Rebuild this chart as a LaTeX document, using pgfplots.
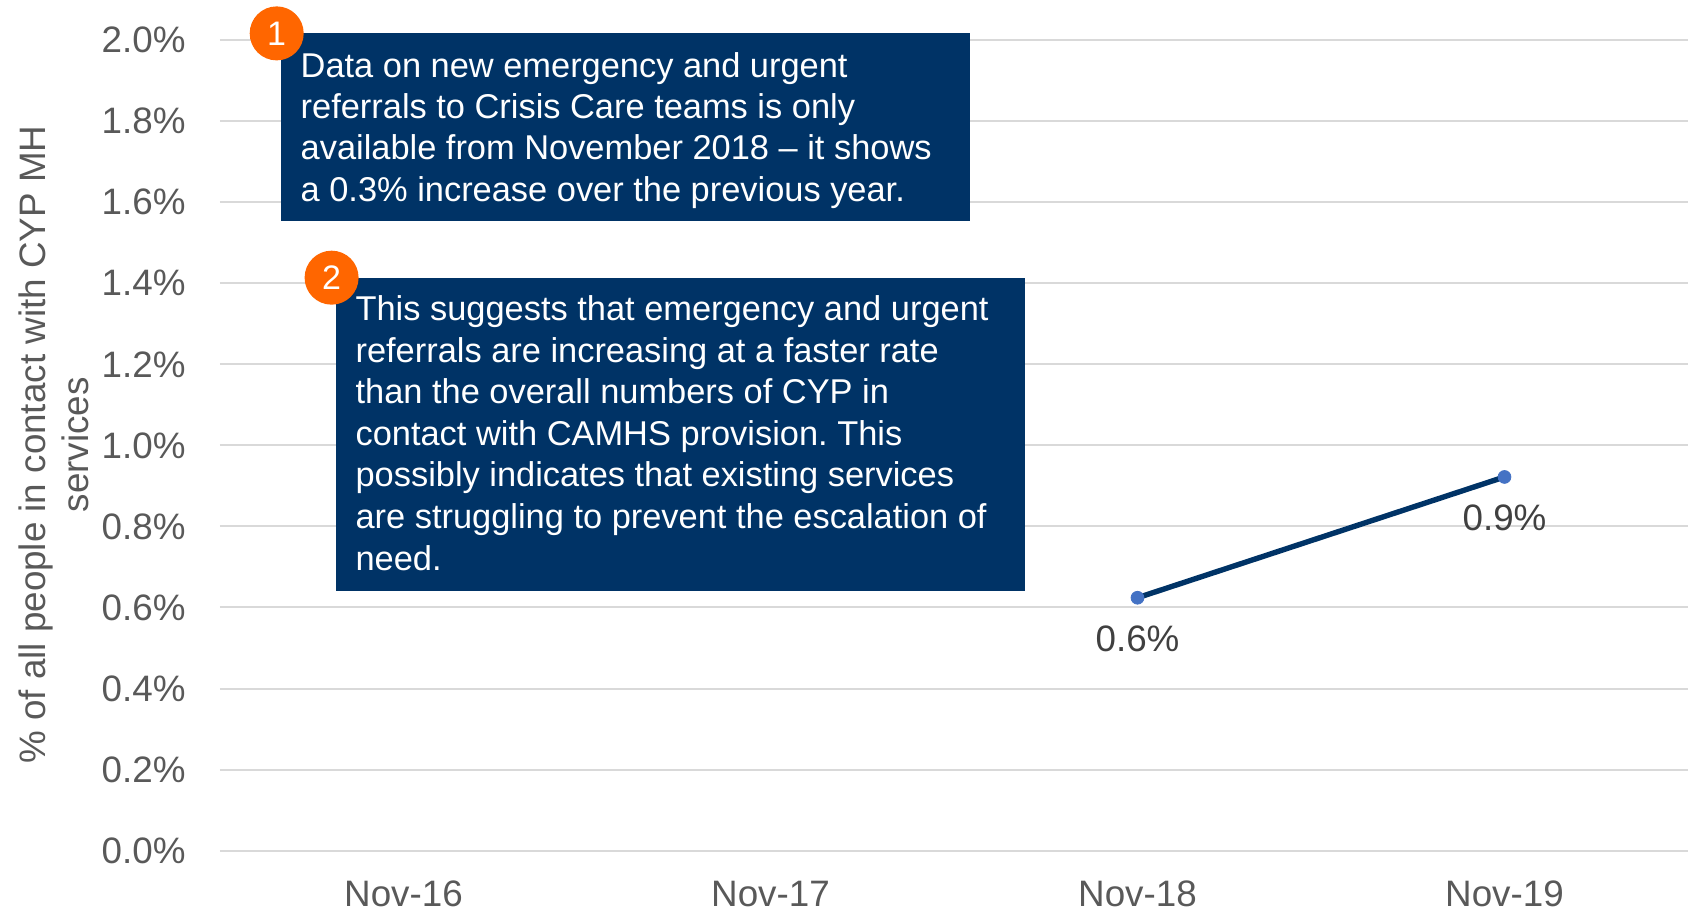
\documentclass[border=0pt]{standalone}
\usepackage{fontspec}
\setmainfont{Liberation Sans}
\usepackage{pgfplots}
\pgfplotsset{compat=1.18}
\definecolor{navy}{HTML}{003366}
\definecolor{mkblue}{HTML}{4472C4}
\definecolor{gridgray}{HTML}{D9D9D9}
\definecolor{tickgray}{HTML}{595959}
\definecolor{lblgray}{HTML}{404040}
\definecolor{orng}{HTML}{FF6600}
\frenchspacing
\begin{document}
\begin{tikzpicture}
\path[use as bounding box] (-110pt,-31.15pt) rectangle (734pt,425.35pt);
\begin{axis}[
  at={(0,0)}, anchor=south west,
  scale only axis, width=734pt, height=405.35pt,
  xmin=-0.5, xmax=3.5, ymin=0, ymax=2,
  xtick={0,1,2,3}, xticklabels={Nov-16,Nov-17,Nov-18,Nov-19},
  ytick={0,0.2,0.4,0.6,0.8,1.0,1.2,1.4,1.6,1.8,2.0},
  ymajorgrids, grid style={gridgray, line width=1pt},
  axis line style={draw=none}, major tick length=0pt,
  yticklabel={\pgfmathprintnumber[fixed,fixed zerofill,precision=1]{\tick}\%},
  /pgf/number format/assume math mode=true,
  tick label style={font=\fontsize{18.4}{22}\selectfont, text=tickgray, inner sep=0pt},
  yticklabel style={anchor=east, xshift=-17pt},
  xticklabel style={anchor=north, yshift=-15pt},
  clip=false,
]
\addplot[navy, line width=2.7pt, mark=*, mark options={draw=mkblue, fill=mkblue, line width=0.4pt, solid}, mark size=3.2pt,
  nodes near coords, point meta=explicit symbolic,
  nodes near coords style={anchor=center, yshift=-20.6pt, font=\fontsize{18.4}{22}\selectfont, text=lblgray}]
  coordinates {(2,0.624) [0.6\%] (3,0.922) [0.9\%]};
\end{axis}
% y label
\node[rotate=90, align=center, text=tickgray, font=\fontsize{18.4}{21.5}\selectfont] at (-83.25pt,203pt) {\% of all people in contact with CYP MH\\services};
% box 1
\fill[navy] (30.5pt,315pt) rectangle (375pt,408.65pt);
\fill[orng] (28.35pt,408.65pt) circle (13.5pt);
\node[text=white, font=\fontsize{17}{20}\selectfont] at (28.35pt,408.65pt) {1};
\begin{scope}[every node/.style={anchor=base west, inner sep=0pt, text=white, font=\fontsize{17.2}{20.6}\selectfont}]
\node at (40.15pt,386.7pt) {Data on new emergency and urgent};
\node at (40.15pt,366.05pt) {referrals to Crisis Care teams is only};
\node at (40.15pt,345.4pt) {available from November 2018 -- it shows};
\node at (40.15pt,324.75pt) {a 0.3\% increase over the previous year.};
\end{scope}
% box 2
\fill[navy] (57.95pt,129.85pt) rectangle (402.4pt,286.5pt);
\fill[orng] (55.8pt,286.5pt) circle (13.5pt);
\node[text=white, font=\fontsize{17}{20}\selectfont] at (55.8pt,286.5pt) {2};
\begin{scope}[every node/.style={anchor=base west, inner sep=0pt, text=white, font=\fontsize{17.2}{20.6}\selectfont}]
\node at (67.6pt,265.05pt) {This suggests that emergency and urgent};
\node at (67.6pt,244.25pt) {referrals are increasing at a faster rate};
\node at (67.6pt,223.45pt) {than the overall numbers of CYP in};
\node at (67.6pt,202.65pt) {contact with CAMHS provision. This};
\node at (67.6pt,181.85pt) {possibly indicates that existing services};
\node at (67.6pt,161.05pt) {are struggling to prevent the escalation of};
\node at (67.6pt,140.25pt) {need.};
\end{scope}
\end{tikzpicture}
\end{document}
